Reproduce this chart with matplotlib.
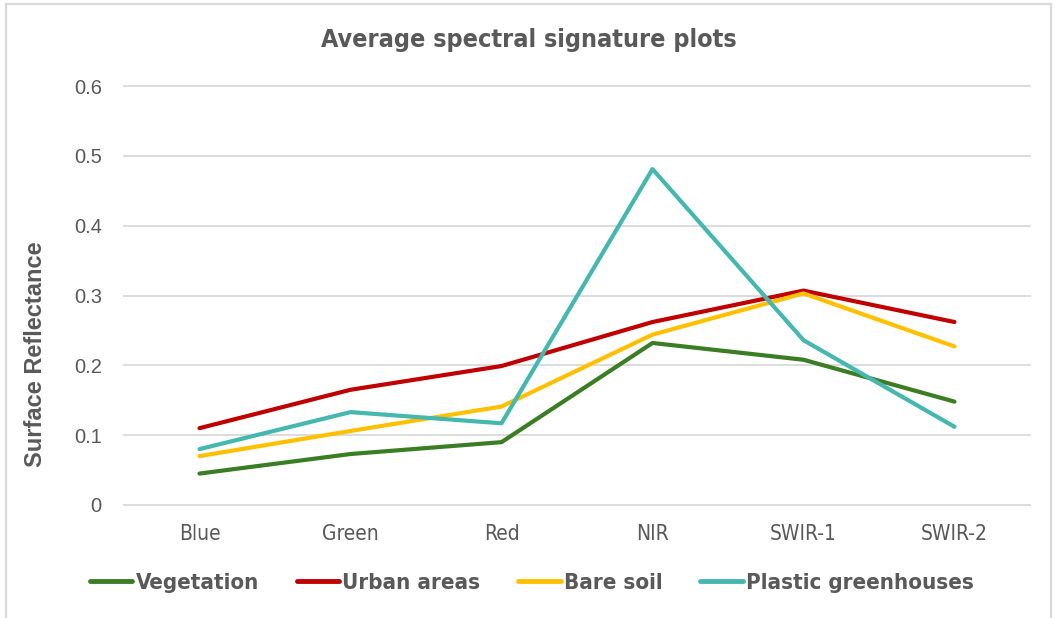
import matplotlib
matplotlib.use("Agg")
import matplotlib.pyplot as plt
from matplotlib.patches import Rectangle
from matplotlib import font_manager

bands = ["Blue", "Green", "Red", "NIR", "SWIR-1", "SWIR-2"]
vegetation = [0.045, 0.073, 0.090, 0.232, 0.208, 0.148]
urban_areas = [0.110, 0.165, 0.199, 0.262, 0.307, 0.262]
bare_soil = [0.070, 0.106, 0.141, 0.244, 0.303, 0.227]
plastic_greenhouses = [0.080, 0.133, 0.117, 0.481, 0.236, 0.112]
yticks = [0, 0.1, 0.2, 0.3, 0.4, 0.5, 0.6]
ytick_labels = ["0", "0.1", "0.2", "0.3", "0.4", "0.5", "0.6"]

series = [
    ("Vegetation", vegetation, "#3B7D23"),
    ("Urban areas", urban_areas, "#C00000"),
    ("Bare soil", bare_soil, "#FFC000"),
    ("Plastic greenhouses", plastic_greenhouses, "#44B7AE"),
]

text_grey = "#595959"
regular = ["Liberation Sans", "DejaVu Sans"]


def narrow_font(size, weight="normal"):
    return font_manager.FontProperties(family="DejaVu Sans", stretch="condensed",
                                       size=size, weight=weight)


fig = plt.figure(figsize=(10.55, 6.18), dpi=100)
fig.patch.set_facecolor("white")

# chart frame
fig.add_artist(Rectangle((6 / 1055, -0.05), 1045 / 1055, (618 - 4) / 618 + 0.05,
                         transform=fig.transFigure, fill=False,
                         edgecolor="#D9D9D9", linewidth=1.6))

ax = fig.add_axes([124 / 1055, (618 - 505) / 618, 906 / 1055, 419 / 618])
x = list(range(len(bands)))
for name, vals, color in series:
    ax.plot(x, vals, color=color, linewidth=3.0, label=name,
            solid_capstyle="round", solid_joinstyle="round", zorder=3)

ax.set_xlim(-0.5, len(bands) - 0.5)
ax.set_ylim(0, 0.6)
ax.set_yticks(yticks)
ax.set_yticklabels(ytick_labels, family=regular, fontsize=14.5, color=text_grey)
ax.set_xticks(x)
ax.set_xticklabels(bands, fontproperties=narrow_font(15), color=text_grey)
ax.tick_params(axis="both", length=0)
ax.tick_params(axis="y", pad=16)
ax.tick_params(axis="x", pad=14)
ax.grid(axis="y", color="#D9D9D9", linewidth=1.3, zorder=0)
for gl in ax.get_ygridlines():
    gl.set_clip_on(False)
for s in ax.spines.values():
    s.set_visible(False)

ax.set_ylabel("Surface Reflectance", family=regular, fontsize=17,
              fontweight="bold", color=text_grey)
ax.yaxis.set_label_coords(-0.085, 0.36)

fig.text(529 / 1055, 1 - 40 / 618, "Average spectral signature plots",
         ha="center", va="center", fontproperties=narrow_font(18, "bold"),
         color=text_grey)

leg = fig.legend(loc="center", bbox_to_anchor=(532 / 1055, 1 - 583 / 618),
                 ncol=4, frameon=False, handlelength=1.9, handletextpad=0.15,
                 columnspacing=1.7, prop=narrow_font(16, "bold"))
for t in leg.get_texts():
    t.set_color(text_grey)
for h in leg.get_lines():
    h.set_linewidth(3.5)

fig.savefig("out.png", dpi=100, facecolor="white")
